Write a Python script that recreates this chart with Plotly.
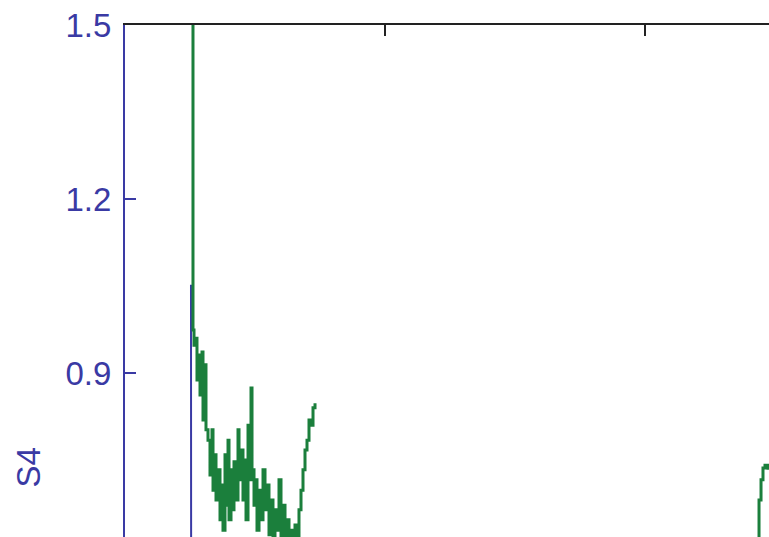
import plotly.graph_objects as go

# S4 scintillation index against time (time in plot units, one tick per unit)
green_t = [0.2615, 0.2615, 0.2654, 0.2731, 0.2769, 0.2846, 0.2885, 0.2962, 0.3000,
           0.3077, 0.3115, 0.3192, 0.3269, 0.3346, 0.3385, 0.3462, 0.3500, 0.3577,
           0.3654, 0.3731, 0.3769, 0.3846, 0.3885, 0.3962, 0.4000, 0.4077, 0.4115,
           0.4192, 0.4269, 0.4346, 0.4385, 0.4462, 0.4538, 0.4615, 0.4654, 0.4731,
           0.4769, 0.4846, 0.4885, 0.4962, 0.5038, 0.5077, 0.5154, 0.5231, 0.5308,
           0.5385, 0.5462, 0.5538, 0.5615, 0.5692, 0.5769, 0.5846, 0.5923, 0.6000,
           0.6077, 0.6154, 0.6231, 0.6308, 0.6385, 0.6462, 0.6538, 0.6615, 0.6692,
           0.6769, 0.6846, 0.6923, 0.7000, 0.7077, 0.7154, 0.7231, 0.7308,
           0.7400,
           2.4308, 2.4385, 2.4462, 2.4538, 2.4615, 2.4731]
green_s4 = [1.620, 0.974, 0.948, 0.960, 0.888, 0.931, 0.862, 0.936, 0.819,
            0.914, 0.802, 0.784, 0.724, 0.802, 0.698, 0.759, 0.681, 0.733,
            0.647, 0.707, 0.629, 0.759, 0.672, 0.784, 0.647, 0.733, 0.664,
            0.747, 0.681, 0.802, 0.716, 0.767, 0.681, 0.750, 0.647, 0.810,
            0.716, 0.874, 0.733, 0.672, 0.716, 0.629, 0.698, 0.647, 0.733,
            0.664, 0.707, 0.621, 0.681, 0.600, 0.664, 0.629, 0.716, 0.600,
            0.672, 0.600, 0.647, 0.600, 0.629, 0.600, 0.638, 0.600, 0.664,
            0.698, 0.733, 0.767, 0.784, 0.819, 0.810, 0.840, 0.848,
            None,
            0.580, 0.681, 0.716, 0.736, 0.741, 0.733]

blue_t = [0.2538, 0.2545, 0.3000, 0.5000, 1.0000, 2.0000, 2.4769]
blue_s4 = [1.052, 0.450, 0.420, 0.400, 0.380, 0.390, 0.400]

y_ticks = [0.6, 0.9, 1.2, 1.5]

BLUE = "#3a3aa4"
GREEN = "#1b7f3c"

fig = go.Figure()
fig.add_trace(go.Scatter(x=blue_t, y=blue_s4, mode="lines",
                         line=dict(color=BLUE, width=2), connectgaps=False))
fig.add_trace(go.Scatter(x=green_t, y=green_s4, mode="lines",
                         line=dict(color=GREEN, width=3, shape="hv"),
                         connectgaps=False))

fig.update_layout(
    width=769, height=537,
    margin=dict(l=125, r=0, t=25, b=0),
    paper_bgcolor="white", plot_bgcolor="white",
    showlegend=False,
    font=dict(family="Liberation Sans, Arial, sans-serif", size=33, color=BLUE),
)
fig.update_xaxes(
    range=[0, 2.4769], side="top", showgrid=False, zeroline=False,
    showline=True, linecolor="#222222", linewidth=2,
    ticks="inside", ticklen=11, tickwidth=2, tickcolor="#222222",
    tick0=0, dtick=1, showticklabels=False,
)
fig.update_yaxes(
    range=[0.6172, 1.5], showgrid=False, zeroline=False,
    showline=True, linecolor=BLUE, linewidth=2,
    ticks="inside", ticklen=11, tickwidth=2, tickcolor=BLUE,
    tickvals=y_ticks, ticktext=[f"{v:.1f}" for v in y_ticks],
    tickfont=dict(size=33, color=BLUE), ticklabelstandoff=5,
)
fig.add_annotation(text="S4", xref="paper", yref="paper",
                   x=-0.150, y=0.1367, xanchor="center", yanchor="middle",
                   textangle=-90, showarrow=False,
                   font=dict(size=33, color=BLUE))

fig.write_html("out.html")
